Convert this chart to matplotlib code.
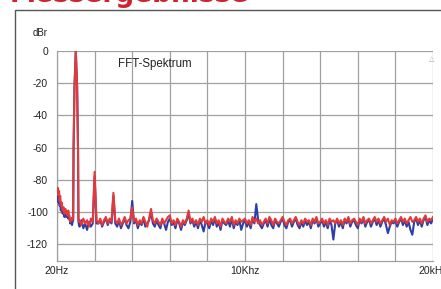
import matplotlib
matplotlib.use("Agg")
from matplotlib import pyplot as plt
from matplotlib.patches import Rectangle

plt.rcParams["font.family"] = ["Liberation Sans", "DejaVu Sans"]

# frequency bins in Hz (shared by both channels)
freq_hz = [20, 50, 80, 110, 140, 170, 200,
           250, 300, 350, 400, 450, 500, 550, 600, 650, 700, 750, 800,
           830, 860, 880, 930, 1000, 1070, 1120, 1140, 1170,
           1200, 1300, 1400, 1500, 1600, 1700, 1800, 1900, 2000, 2100,
           2200, 2300, 2400, 2500, 2600, 2700, 2800, 2900,
           3000, 3100, 3200, 3300, 3400, 3500, 3600, 3700, 3800, 3900,
           4000, 4100, 4200, 4300, 4400, 4500, 4600, 4700, 4800, 4900,
           5000, 5100, 5200, 5300, 5400, 5500, 5600, 5700, 5800, 5900,
           6000, 6100, 6200, 6300, 6400, 6500, 6600, 6700, 6800, 6900,
           7000, 7100, 7200, 7300, 7400, 7500, 7600, 7700, 7800, 7900,
           8000, 8100, 8200, 8300, 8400, 8500, 8600, 8700, 8800, 8900,
           9000, 9100, 9200, 9300, 9400, 9500, 9600, 9700, 9800, 9900,
           10000, 10100, 10200, 10300, 10400, 10500, 10600, 10700, 10800, 10900,
           11000, 11100, 11200, 11300, 11400, 11500, 11600, 11700, 11800, 11900,
           12000, 12100, 12200, 12300, 12400, 12500, 12600, 12700, 12800, 12900,
           13000, 13100, 13200, 13300, 13400, 13500, 13600, 13700, 13800, 13900,
           14000, 14100, 14200, 14300, 14400, 14500, 14600, 14700, 14800, 14900,
           15000, 15100, 15200, 15300, 15400, 15500, 15600, 15700, 15800, 15900,
           16000, 16100, 16200, 16300, 16400, 16500, 16600, 16700, 16800, 16900,
           17000, 17100, 17200, 17300, 17400, 17500, 17600, 17700, 17800, 17900,
           18000, 18100, 18200, 18300, 18400, 18500, 18600, 18700, 18800, 18900,
           19000, 19100, 19200, 19300, 19400, 19500, 19600, 19700, 19800, 19900,
           20000]

# right channel (red), dBr
red_db = [-88, -85, -89, -87, -93, -90, -96,
          -94, -99, -97, -101, -98, -100, -102, -99, -103, -106, -104, -105,
          -103, -104, -62, -22, 0, -22, -62, -104, -106,
          -105, -108, -104, -107, -105, -109, -104, -106, -75, -105,
          -107, -104, -108, -105, -103, -107, -104, -106,
          -88, -105, -107, -104, -108, -106, -103, -107, -105, -104,
          -97, -106, -104, -108, -105, -107, -103, -106, -109, -104,
          -98, -105, -107, -104, -106, -108, -104, -107, -105, -103,
          -102, -107, -105, -108, -104, -106, -109, -105, -107, -104,
          -99, -106, -104, -107, -105, -108, -104, -106, -103, -107,
          -105, -108, -104, -106, -103, -107, -105, -109, -104, -106,
          -107, -104, -106, -103, -108, -105, -107, -104, -106, -105,
          -104, -107, -105, -108, -103, -106, -104, -107, -105, -108,
          -106, -104, -107, -103, -105, -108, -104, -106, -107, -105,
          -103, -106, -108, -105, -104, -107, -105, -103, -106, -108,
          -105, -107, -104, -106, -105, -108, -104, -106, -103, -107,
          -106, -104, -107, -105, -108, -104, -106, -105, -107, -104,
          -107, -105, -108, -104, -106, -103, -107, -105, -104, -106,
          -108, -104, -106, -103, -107, -105, -104, -107, -105, -103,
          -106, -104, -107, -105, -103, -106, -104, -108, -105, -106,
          -104, -107, -105, -103, -106, -104, -107, -105, -103, -106,
          -105, -103, -106, -104, -107, -104, -102, -106, -104, -105,
          -103]

# left channel (blue), dBr
blue_db = [-93, -90, -94, -91, -96, -93, -99,
           -97, -101, -99, -103, -100, -103, -101, -104, -102, -107, -105, -108,
           -106, -105, -62, -22, 0, -22, -62, -106, -108,
           -109, -105, -110, -107, -111, -106, -109, -107, -78, -107,
           -107, -105, -109, -106, -104, -108, -105, -107,
           -90, -107, -109, -105, -110, -107, -104, -108, -110, -106,
           -93, -107, -105, -110, -106, -108, -104, -109, -107, -105,
           -100, -107, -109, -105, -108, -110, -105, -107, -111, -106,
           -104, -108, -106, -110, -105, -107, -111, -106, -108, -105,
           -101, -107, -105, -109, -106, -110, -105, -108, -112, -106,
           -107, -110, -105, -108, -104, -109, -106, -111, -105, -107,
           -108, -105, -109, -104, -110, -106, -108, -105, -111, -107,
           -105, -109, -106, -110, -104, -107, -95, -105, -108, -110,
           -107, -105, -109, -104, -108, -110, -105, -107, -109, -106,
           -104, -108, -110, -106, -105, -109, -106, -104, -108, -110,
           -106, -109, -105, -108, -106, -110, -105, -107, -104, -109,
           -107, -105, -109, -106, -110, -105, -108, -117, -107, -105,
           -109, -106, -110, -105, -107, -104, -109, -106, -105, -108,
           -110, -105, -107, -104, -109, -106, -105, -109, -106, -104,
           -108, -105, -109, -106, -104, -108, -113, -109, -106, -107,
           -105, -109, -106, -104, -108, -105, -109, -106, -111, -114,
           -106, -104, -108, -105, -109, -105, -103, -108, -105, -107,
           -104]

x_ticks = [0, 10000, 20000]
x_tick_labels = ["20Hz", "10Khz", "20kHz"]
y_ticks = [0, -20, -40, -60, -80, -100, -120]

W, H = 441, 289
fig = plt.figure(figsize=(W / 100, H / 100), dpi=100)
ax = fig.add_axes([57 / W, 1 - 260.5 / H, (433 - 57) / W, (260.5 - 51) / H])

ax.plot(freq_hz, blue_db, color="#2b3fa6", lw=1.5, zorder=3)
ax.plot(freq_hz, red_db, color="#e23a3a", lw=1.5, zorder=4)

ax.set_xlim(0, 20000)
ax.set_ylim(-130, 0)
ax.set_xticks(range(0, 20001, 2000))
ax.set_xticklabels(["" for _ in range(11)])
ax.set_yticks(y_ticks)
ax.set_yticklabels([str(v) for v in y_ticks], fontsize=7.5, color="#222222")
ax.tick_params(length=0, pad=6.5)
ax.grid(True, color="#a0a0a0", lw=0.9)
for s in ax.spines.values():
    s.set_color("#a0a0a0")
    s.set_linewidth(0.9)
ax.spines["top"].set_visible(False)
ax.spines["right"].set_visible(False)

for xv, lab in zip(x_ticks, x_tick_labels):
    ax.text(xv, -136.5, lab, ha="center", va="center", fontsize=7.5,
            color="#222222", clip_on=False)

ax.text(3250, -8, "FFT-Spektrum", ha="left", va="center", fontsize=8.3,
        color="#222222")
ax.text(19950, -5, "\u25b3", ha="center", va="center", fontsize=5,
        color="#b0b0b0", family="DejaVu Sans")

fig.text(48 / W, 1 - 33 / H, "dBr", ha="right", va="center", fontsize=7,
         color="#222222")

# outer frame of the magazine box
fig.add_artist(Rectangle((15 / W, -0.1), 1.0, 1 - 10 / H + 0.1,
                         transform=fig.transFigure, fill=False,
                         edgecolor="#555555", lw=1.0))

# cut-off heading above the box
fig.text(10 / W, 1 - 2.5 / H, "Messergebnisse", ha="left", va="baseline",
         fontsize=19, fontweight="bold", color="#d2202e",
         family="DejaVu Sans")

fig.savefig("out.png", dpi=100)
